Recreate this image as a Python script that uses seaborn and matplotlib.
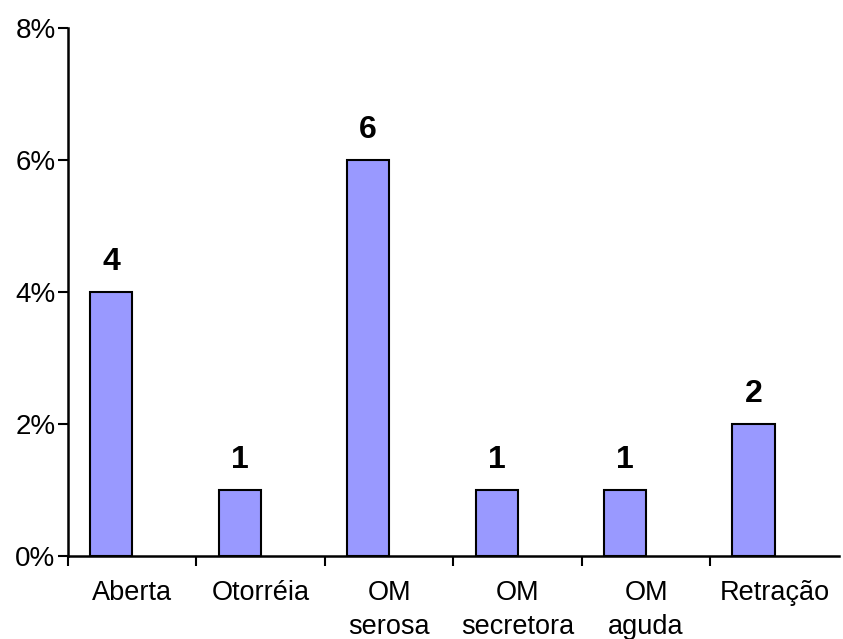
import matplotlib
matplotlib.use("Agg")
import matplotlib.pyplot as plt
import seaborn as sns
import pandas as pd
import numpy as np

categorias = ["Aberta", "Otorréia", "OM\nserosa", "OM\nsecretora", "OM\naguda", "Retração"]
contagens = [4, 1, 6, 1, 1, 2]
percentuais = [4, 1, 6, 1, 1, 2]
yticks = [0, 2, 4, 6, 8]
ytick_labels = ["0%", "2%", "4%", "6%", "8%"]

sns.set_theme(style="white")
plt.rcParams["font.family"] = ["Liberation Sans", "DejaVu Sans"]

df = pd.DataFrame({"categoria": categorias, "pct": percentuais, "serie": "A"})

fig = plt.figure(figsize=(8.43, 6.39), dpi=100)
ax = fig.add_axes([0.0807, 0.130, 0.9143, 0.826])

# second (empty) series keeps each bar on the left half of its category slot
sns.barplot(data=df, x="categoria", y="pct", hue="serie", hue_order=["A", "B"],
            order=categorias, width=0.655, dodge=True, saturation=1,
            palette=["#9999FF", "#9999FF"], edgecolor="black", linewidth=1.5,
            legend=False, ax=ax, errorbar=None)

for patch, n in zip(sorted(ax.patches, key=lambda p: p.get_x()), contagens):
    cx = patch.get_x() + patch.get_width() / 2
    ax.annotate(str(n), (cx, patch.get_height()), xytext=(0, 11),
                textcoords="offset points", ha="center", va="bottom",
                fontsize=23, fontweight="bold", color="black")

ax.set_xlim(-0.5, len(categorias) - 0.5)
ax.set_ylim(0, 8)
ax.set_yticks(yticks)
ax.set_yticklabels(ytick_labels)
ax.set_xlabel("")
ax.set_ylabel("")

ax.set_xticks(range(len(categorias)))
ax.set_xticklabels(categorias, linespacing=1.4)
ax.set_xticks(np.arange(len(categorias)) - 0.5, minor=True)
ax.tick_params(axis="x", which="major", length=0, pad=17, labelsize=19.5, colors="black")
ax.tick_params(axis="x", which="minor", length=7, width=1.5, direction="out",
               bottom=True, color="black")
ax.tick_params(axis="y", length=7, width=1.5, direction="out", left=True,
               labelsize=20, colors="black", pad=2)

for side in ["top", "right"]:
    ax.spines[side].set_visible(False)
for side in ["left", "bottom"]:
    ax.spines[side].set_color("black")
    ax.spines[side].set_linewidth(1.8)

ax.grid(False)
fig.savefig("out.png", dpi=100, facecolor="white")
